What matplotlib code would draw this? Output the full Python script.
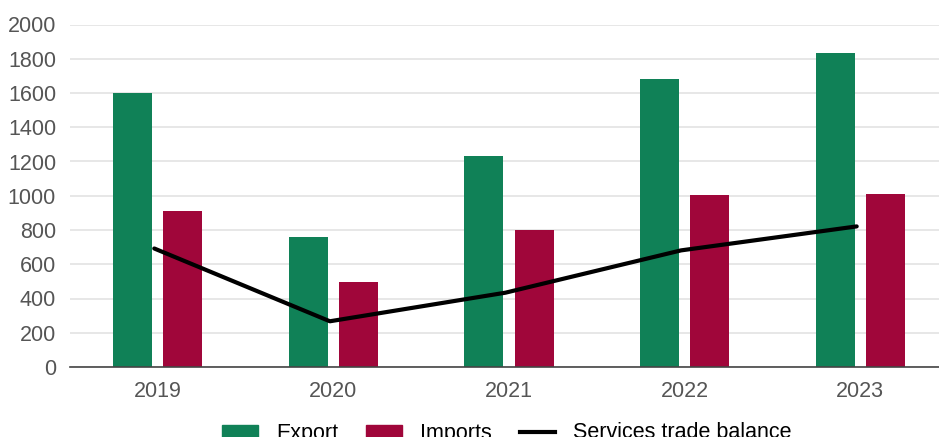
import numpy as np
import matplotlib
matplotlib.use("Agg")
import matplotlib.pyplot as plt
from matplotlib.patches import Patch
from matplotlib.lines import Line2D

# values
years = ["2019", "2020", "2021", "2022", "2023"]
export = [1600, 762, 1230, 1681, 1831]
imports = [910, 497, 799, 1003, 1009]
balance = [692, 267, 434, 681, 821]

green = "#108157"
red = "#a0063a"

plt.rcParams["font.family"] = ["Liberation Sans", "DejaVu Sans"]

fig = plt.figure(figsize=(9.39, 4.37), dpi=100)
W, H = 939, 437
ax = fig.add_axes([70 / W, (H - 367) / H, (948 - 70) / W, (367 - 24.5) / H])

x = np.arange(len(years))
bw = 0.222
off = 0.143
ax.bar(x - off, export, width=bw, color=green, zorder=2)
ax.bar(x + off, imports, width=bw, color=red, zorder=2)
ax.plot(x - 0.02, balance, color="black", lw=3, zorder=3, solid_capstyle="round")

ax.set_xlim(-0.5, 4.5)
ax.set_ylim(0, 2000)
ax.set_yticks(range(0, 2001, 200))
ax.set_xticks(x)
ax.set_xticklabels(years)
ax.tick_params(axis="both", length=0, labelsize=15.5, labelcolor="#555555")
ax.tick_params(axis="x", pad=10)
ax.tick_params(axis="y", pad=10)
ax.grid(axis="y", color="#e3e3e3", lw=1.2, zorder=0)
ax.set_axisbelow(True)
for s in ["top", "right", "left"]:
    ax.spines[s].set_visible(False)
ax.spines["bottom"].set_color("#444444")
ax.spines["bottom"].set_linewidth(1.2)

handles = [
    Patch(color=green, label="Export"),
    Patch(color=red, label="Imports"),
    Line2D([], [], color="black", lw=3, label="Services trade balance"),
]
fig.legend(handles=handles, loc="center", bbox_to_anchor=(507 / W, (H - 433) / H),
           ncol=3, frameon=False, fontsize=15.5, handlelength=1.65, handleheight=0.5,
           columnspacing=1.3, handletextpad=0.85)

fig.savefig("out.png", dpi=100)
